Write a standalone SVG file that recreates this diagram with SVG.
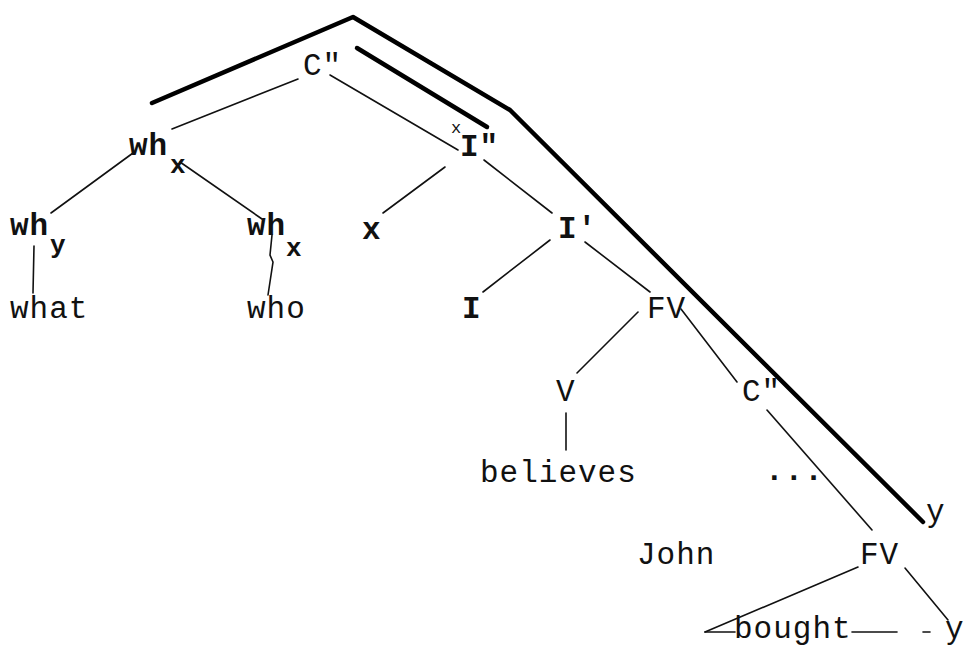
<svg xmlns="http://www.w3.org/2000/svg" width="966" height="647" viewBox="0 0 966 647">
<style>
.t{font-family:"Liberation Mono","Courier New",monospace;font-size:31px;letter-spacing:1px;fill:#111}
.b{font-weight:bold}
.s{font-family:"Liberation Mono","Courier New",monospace;font-size:26px;font-weight:bold;fill:#111}
.thin{stroke:#111;stroke-width:1.6;fill:none;stroke-linecap:round}
.thick{stroke:#000;stroke-width:4.5;fill:none;stroke-linecap:round;stroke-linejoin:round}
</style>
<rect width="966" height="647" fill="#fff"/>
<g id="connectors">
<polyline class="thick" points="152,103 353,17 510,110 923,522"/>
<line class="thick" x1="357" y1="48" x2="487" y2="127"/>
<line class="thin" x1="298" y1="79" x2="172" y2="129"/>
<line class="thin" x1="330" y1="75" x2="458" y2="150"/>
<line class="thin" x1="133" y1="153" x2="51" y2="213"/>
<line class="thin" x1="180" y1="162" x2="262" y2="219"/>
<line class="thin" x1="34" y1="246" x2="33" y2="293"/>
<path class="thin" d="M272,235 L270,255 L273,262 L268,295"/>
<line class="thin" x1="445" y1="167" x2="383" y2="213"/>
<line class="thin" x1="484" y1="160" x2="552" y2="213"/>
<line class="thin" x1="550" y1="240" x2="483" y2="292"/>
<line class="thin" x1="585" y1="242" x2="650" y2="292"/>
<line class="thin" x1="638" y1="312" x2="577" y2="373"/>
<line class="thin" x1="681" y1="309" x2="737" y2="382"/>
<line class="thin" x1="566" y1="413" x2="566" y2="450"/>
<line class="thin" x1="767" y1="410" x2="872" y2="530"/>
<line class="thin" x1="858" y1="567" x2="705" y2="632"/>
<line class="thin" x1="705" y1="632" x2="735" y2="632"/>
<line class="thin" x1="905" y1="568" x2="948" y2="620"/>
<line class="thin" x1="852" y1="632" x2="897" y2="632"/>
<line class="thin" x1="923" y1="632" x2="930" y2="632"/>
</g>
<g id="n-cpp"><text class="t" x="303" y="75">C"</text></g>
<g id="n-ipp"><text class="t b" x="460" y="156">I"</text><text class="t" x="451" y="133" style="font-size:17px;letter-spacing:0">x</text></g>
<g id="n-whx"><text class="t b" x="129" y="155">wh</text><text class="s" x="170" y="173">x</text></g>
<g id="n-why"><text class="t b" x="10" y="235">wh</text><text class="s" x="50" y="253">y</text></g>
<g id="n-whx2"><text class="t b" x="247" y="235">wh</text><text class="s" x="286" y="256">x</text></g>
<g id="n-what"><text class="t" x="10" y="318">what</text></g>
<g id="n-who"><text class="t" x="247" y="318">who</text></g>
<g id="n-x"><text class="t b" x="362" y="239">x</text></g>
<g id="n-ip"><text class="t b" x="558" y="238">I'</text></g>
<g id="n-i"><text class="t b" x="462" y="318">I</text></g>
<g id="n-fv"><text class="t" x="647" y="318">FV</text></g>
<g id="n-v"><text class="t" x="556" y="401">V</text></g>
<g id="n-believes"><text class="t" x="480" y="482">believes</text></g>
<g id="n-cpp2"><text class="t" x="742" y="401">C"</text></g>
<g id="n-dots"><text class="t b" x="765" y="480">...</text></g>
<g id="n-y1"><text class="t" x="926" y="521">y</text></g>
<g id="n-john"><text class="t" x="637" y="564">John</text></g>
<g id="n-fv2"><text class="t" x="860" y="564">FV</text></g>
<g id="n-bought"><text class="t" x="734" y="638">bought</text></g>
<g id="n-y2"><text class="t" x="945" y="638">y</text></g>
</svg>
